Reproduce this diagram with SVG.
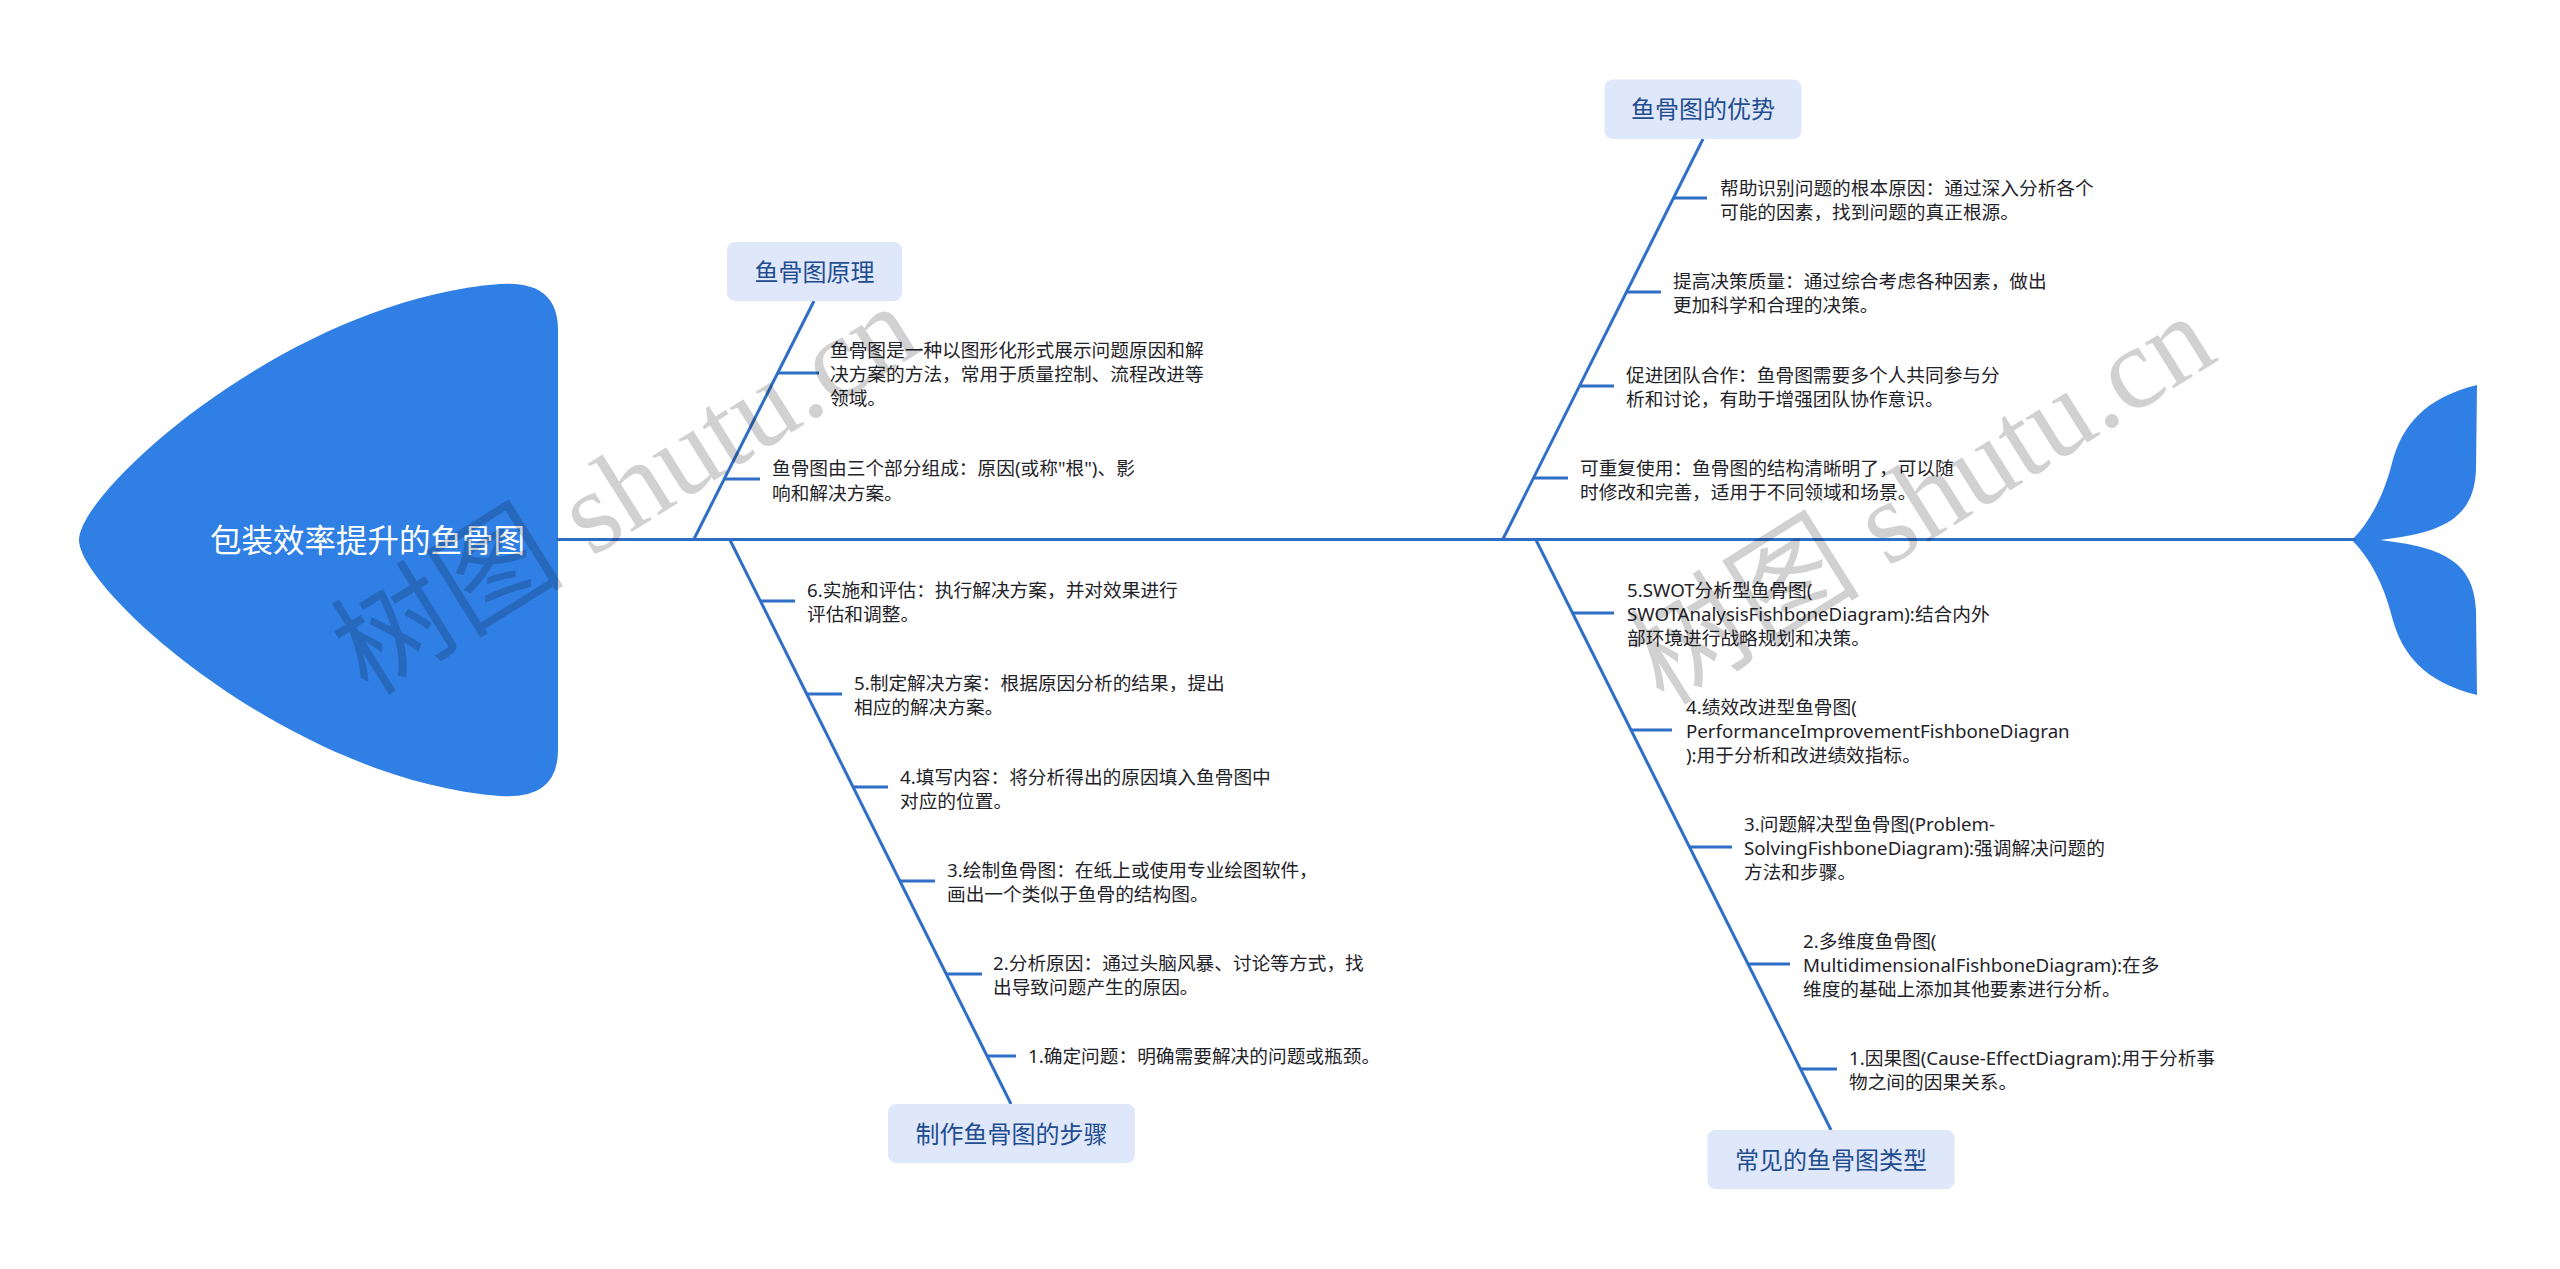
<svg xmlns="http://www.w3.org/2000/svg" width="2560" height="1269" viewBox="0 0 2560 1269">
<style>
.fish{fill:#2f7fe5}
.ln{stroke:#2e6ec6;stroke-width:3;fill:none;stroke-linecap:butt}
.box{fill:#dfe8fb}
.cat{font-family:'Noto Sans CJK SC','Noto Sans',sans-serif;font-size:24px;fill:#1f4d8f;text-anchor:middle}
.leaf{font-family:'Noto Sans','Noto Sans CJK SC',sans-serif;font-size:18.7px;fill:#1f2329}
.head{font-family:'Noto Sans CJK SC','Noto Sans',sans-serif;font-size:31.5px;fill:#ffffff;text-anchor:middle}
.wm{font-family:'Liberation Serif','Noto Sans CJK SC',serif;font-size:117px;fill:#000;fill-opacity:0.18}
</style>
<rect width="2560" height="1269" fill="#ffffff"/>
<g id="head">
<path class="fish" d="M79,540 C79,490 290,300 500,284 Q558,280 558,330 L558,750 Q558,800 500,796 C290,780 79,590 79,540 Z"/>
<text class="head" x="367.5" y="552">包装效率提升的鱼骨图</text>
</g>
<g id="tail">
<path class="fish" d="M2352,540 C2370,522 2384,495 2392,463 C2402,425 2425,398 2477,385 L2476,470 C2474,520 2440,533 2380,540 Z"/>
<path class="fish" d="M2352,540 C2370,558 2384,585 2392,617 C2402,655 2425,682 2477,695 L2476,610 C2474,560 2440,547 2380,540 Z"/>
</g>
<g id="connectors">
<line class="ln" x1="556" y1="539.5" x2="2356" y2="539.5"/>
<line class="ln" x1="814" y1="301" x2="694" y2="539"/>
<line class="ln" x1="730" y1="540" x2="1011" y2="1104"/>
<line class="ln" x1="1703" y1="139" x2="1503" y2="539"/>
<line class="ln" x1="1536" y1="540" x2="1831" y2="1130"/>
<line class="ln" x1="778" y1="373" x2="819" y2="373"/>
<line class="ln" x1="724" y1="479" x2="760" y2="479"/>
<line class="ln" x1="760" y1="601" x2="795" y2="601"/>
<line class="ln" x1="807" y1="694" x2="842" y2="694"/>
<line class="ln" x1="853" y1="787" x2="888" y2="787"/>
<line class="ln" x1="900" y1="881" x2="935" y2="881"/>
<line class="ln" x1="946" y1="974" x2="982" y2="974"/>
<line class="ln" x1="987" y1="1056" x2="1016" y2="1056"/>
<line class="ln" x1="1673" y1="198" x2="1707" y2="198"/>
<line class="ln" x1="1626" y1="292" x2="1661" y2="292"/>
<line class="ln" x1="1580" y1="386" x2="1614" y2="386"/>
<line class="ln" x1="1533" y1="478" x2="1568" y2="478"/>
<line class="ln" x1="1572" y1="613" x2="1614" y2="613"/>
<line class="ln" x1="1631" y1="730" x2="1672" y2="730"/>
<line class="ln" x1="1689" y1="847" x2="1732" y2="847"/>
<line class="ln" x1="1747" y1="964" x2="1790" y2="964"/>
<line class="ln" x1="1800" y1="1069" x2="1837" y2="1069"/>
</g>
<g id="cat-principle">
<rect class="box" x="727" y="242" width="175" height="59" rx="8"/>
<text class="cat" x="814.5" y="280.5">鱼骨图原理</text>
</g>
<g id="cat-advantage">
<rect class="box" x="1604.5" y="79.5" width="197" height="59.5" rx="8"/>
<text class="cat" x="1703" y="118">鱼骨图的优势</text>
</g>
<g id="cat-steps">
<rect class="box" x="888" y="1104" width="247" height="59" rx="8"/>
<text class="cat" x="1011.5" y="1142.5">制作鱼骨图的步骤</text>
</g>
<g id="cat-types">
<rect class="box" x="1707.5" y="1130" width="247" height="59" rx="8"/>
<text class="cat" x="1831" y="1168.5">常见的鱼骨图类型</text>
</g>
<g id="leaf-p1"><text class="leaf"><tspan x="830" y="357">鱼骨图是一种以图形化形式展示问题原因和解</tspan><tspan x="830" y="381">决方案的方法，常用于质量控制、流程改进等</tspan><tspan x="830" y="405">领域。</tspan></text></g>
<g id="leaf-p2"><text class="leaf"><tspan x="772" y="475">鱼骨图由三个部分组成：原因(或称"根")、影</tspan><tspan x="772" y="500">响和解决方案。</tspan></text></g>
<g id="leaf-s6"><text class="leaf"><tspan x="807" y="597">6.实施和评估：执行解决方案，并对效果进行</tspan><tspan x="807" y="621">评估和调整。</tspan></text></g>
<g id="leaf-s5"><text class="leaf"><tspan x="854" y="690">5.制定解决方案：根据原因分析的结果，提出</tspan><tspan x="854" y="714">相应的解决方案。</tspan></text></g>
<g id="leaf-s4"><text class="leaf"><tspan x="900" y="784">4.填写内容：将分析得出的原因填入鱼骨图中</tspan><tspan x="900" y="808">对应的位置。</tspan></text></g>
<g id="leaf-s3"><text class="leaf"><tspan x="947" y="877">3.绘制鱼骨图：在纸上或使用专业绘图软件，</tspan><tspan x="947" y="901">画出一个类似于鱼骨的结构图。</tspan></text></g>
<g id="leaf-s2"><text class="leaf"><tspan x="993" y="970">2.分析原因：通过头脑风暴、讨论等方式，找</tspan><tspan x="993" y="994">出导致问题产生的原因。</tspan></text></g>
<g id="leaf-s1"><text class="leaf"><tspan x="1028" y="1063">1.确定问题：明确需要解决的问题或瓶颈。</tspan></text></g>
<g id="leaf-a1"><text class="leaf"><tspan x="1720" y="195">帮助识别问题的根本原因：通过深入分析各个</tspan><tspan x="1720" y="219">可能的因素，找到问题的真正根源。</tspan></text></g>
<g id="leaf-a2"><text class="leaf"><tspan x="1673" y="288">提高决策质量：通过综合考虑各种因素，做出</tspan><tspan x="1673" y="312">更加科学和合理的决策。</tspan></text></g>
<g id="leaf-a3"><text class="leaf"><tspan x="1626" y="382">促进团队合作：鱼骨图需要多个人共同参与分</tspan><tspan x="1626" y="406">析和讨论，有助于增强团队协作意识。</tspan></text></g>
<g id="leaf-a4"><text class="leaf"><tspan x="1580" y="475">可重复使用：鱼骨图的结构清晰明了，可以随</tspan><tspan x="1580" y="499">时修改和完善，适用于不同领域和场景。</tspan></text></g>
<g id="leaf-t5"><text class="leaf"><tspan x="1627" y="597">5.SWOT分析型鱼骨图(</tspan><tspan x="1627" y="621">SWOTAnalysisFishboneDiagram):结合内外</tspan><tspan x="1627" y="645">部环境进行战略规划和决策。</tspan></text></g>
<g id="leaf-t4"><text class="leaf"><tspan x="1686" y="714">4.绩效改进型鱼骨图(</tspan><tspan x="1686" y="738">PerformanceImprovementFishboneDiagran</tspan><tspan x="1686" y="762">):用于分析和改进绩效指标。</tspan></text></g>
<g id="leaf-t3"><text class="leaf"><tspan x="1744" y="831">3.问题解决型鱼骨图(Problem-</tspan><tspan x="1744" y="855">SolvingFishboneDiagram):强调解决问题的</tspan><tspan x="1744" y="879">方法和步骤。</tspan></text></g>
<g id="leaf-t2"><text class="leaf"><tspan x="1803" y="948">2.多维度鱼骨图(</tspan><tspan x="1803" y="972">MultidimensionalFishboneDiagram):在多</tspan><tspan x="1803" y="996">维度的基础上添加其他要素进行分析。</tspan></text></g>
<g id="leaf-t1"><text class="leaf"><tspan x="1849" y="1065">1.因果图(Cause-EffectDiagram):用于分析事</tspan><tspan x="1849" y="1089">物之间的因果关系。</tspan></text></g>
<g id="watermark">
<text class="wm" transform="translate(368,697) rotate(-32)">树图 shutu.cn</text>
<text class="wm" transform="translate(1664,707) rotate(-32)">树图 shutu.cn</text>
</g>
</svg>
